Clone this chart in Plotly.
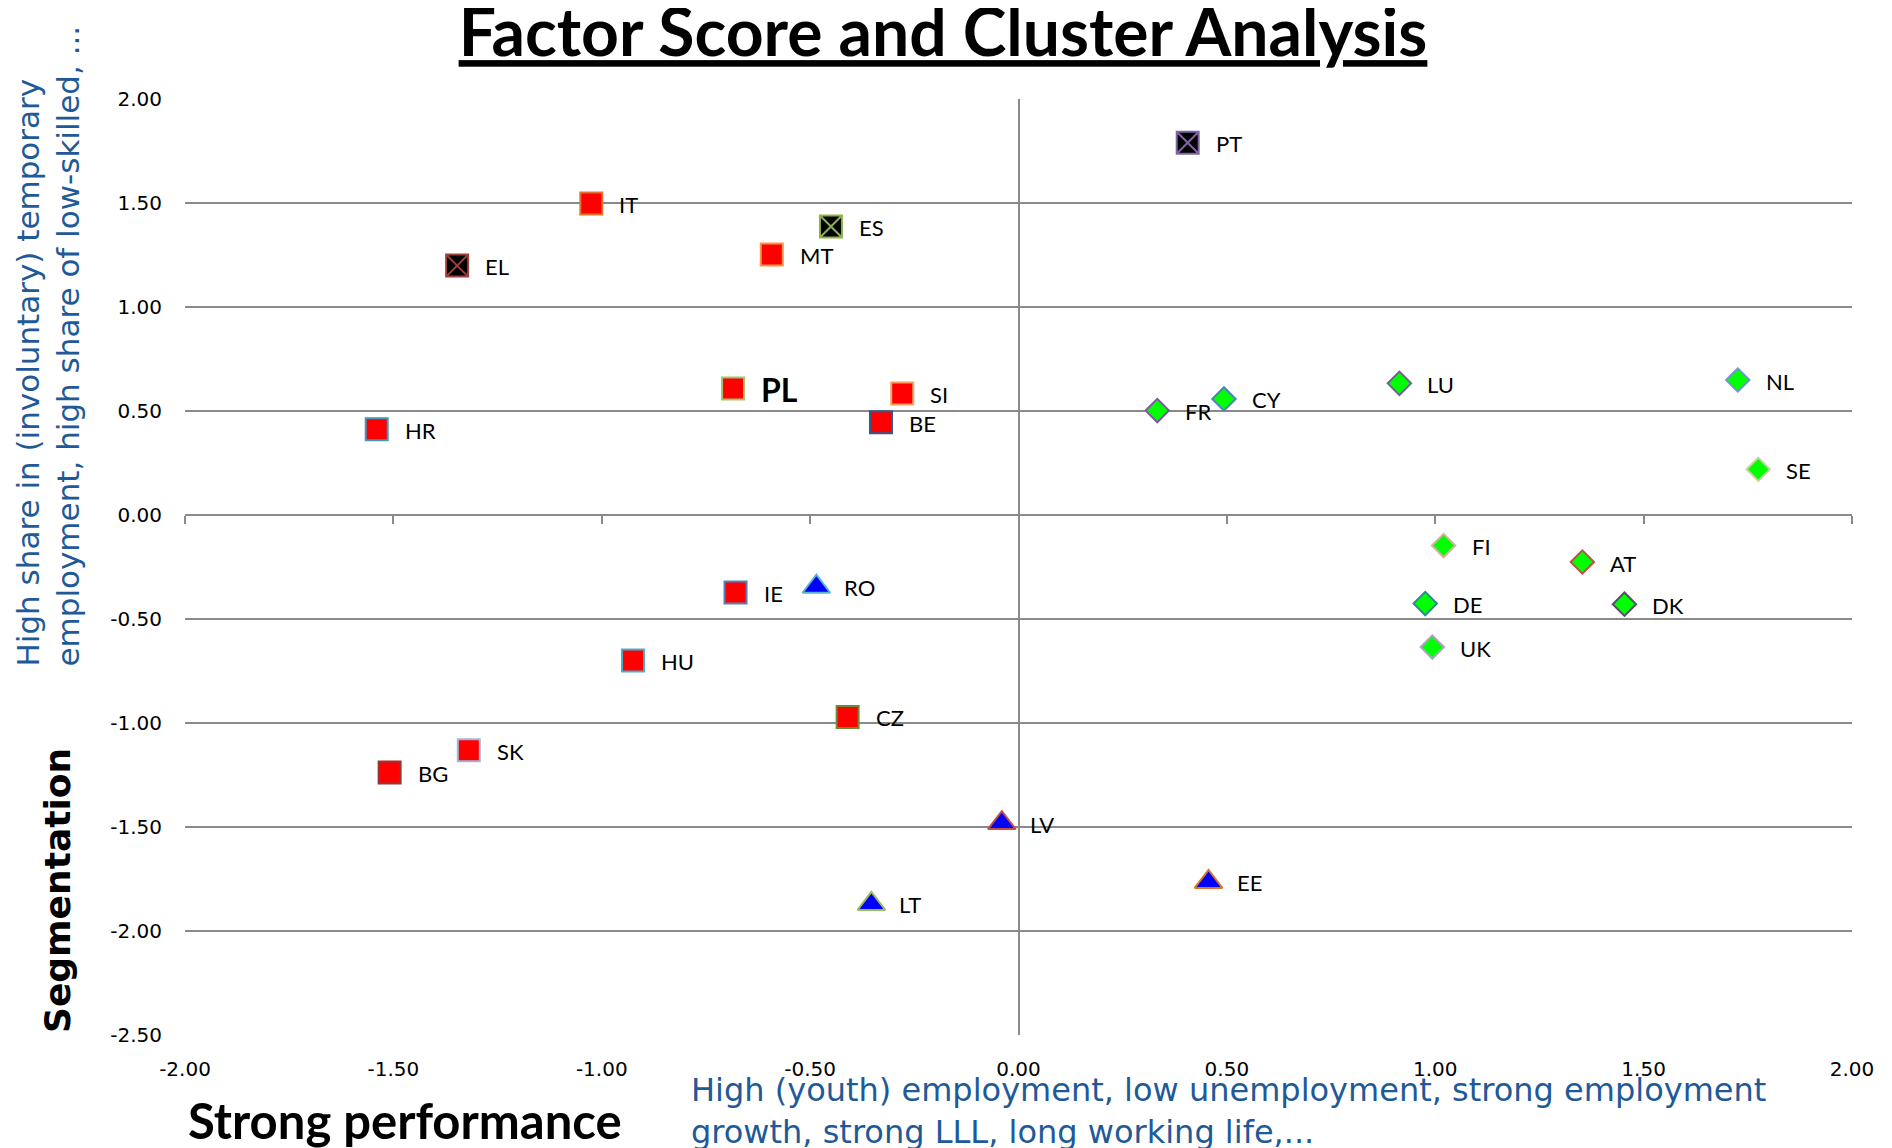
import plotly.graph_objects as go

# ---------------- data ----------------
# Cluster 1: red squares
c1_codes = ["IT", "MT", "SI", "PL", "BE", "HR", "IE", "HU", "CZ", "SK", "BG"]
c1_x = [-1.025, -0.592, -0.279, -0.685, -0.330, -1.540, -0.679, -0.925, -0.410, -1.319, -1.509]
c1_y = [1.497, 1.252, 0.584, 0.608, 0.446, 0.412, -0.373, -0.700, -0.971, -1.131, -1.238]

# Cluster 2: black crossed squares
c2_codes = ["EL", "ES", "PT"]
c2_x = [-1.347, -0.450, 0.406]
c2_y = [1.199, 1.387, 1.790]

# Cluster 3: green diamonds
c3_codes = ["FR", "CY", "LU", "NL", "SE", "FI", "AT", "DE", "DK", "UK"]
c3_x = [0.333, 0.493, 0.914, 1.726, 1.775, 1.020, 1.353, 0.976, 1.454, 0.993]
c3_y = [0.502, 0.558, 0.633, 0.649, 0.220, -0.147, -0.226, -0.426, -0.429, -0.635]

# Cluster 4: blue triangles
c4_codes = ["RO", "LV", "EE", "LT"]
c4_x = [-0.485, -0.040, 0.456, -0.353]
c4_y = [-0.345, -1.481, -1.764, -1.870]

x_ticks = [-2.0, -1.5, -1.0, -0.5, 0.0, 0.5, 1.0, 1.5, 2.0]
y_ticks = [-2.5, -2.0, -1.5, -1.0, -0.5, 0.0, 0.5, 1.0, 1.5, 2.0]
x_ticktext = [f"{v:.2f}" for v in x_ticks]
y_ticktext = [f"{v:.2f}" for v in y_ticks]

# ---------------- styles ----------------
edge = {
    "IT": "#E0742E", "MT": "#F79646", "SI": "#F8A064", "PL": "#A3C46E", "BE": "#2F5A8E",
    "HR": "#3E9AB8", "IE": "#4F81BD", "HU": "#4BACC6", "CZ": "#6E8B3A", "SK": "#9DB8DC",
    "BG": "#953735",
    "EL": "#A0403C", "ES": "#8DB04E", "PT": "#8064A2",
    "FR": "#7A5A9E", "CY": "#4F81BD", "LU": "#7A5A9E", "NL": "#7393D3", "SE": "#C3D69B",
    "FI": "#E6A8A8", "AT": "#C0504D", "DE": "#31859C", "DK": "#5F497A", "UK": "#B3A2C7",
    "RO": "#5AB4D0", "LV": "#C0504D", "EE": "#D8772A", "LT": "#9BBB59",
}
GRID = "#8A8A8A"
BLUE = "#1F5A98"

# page offset of the figure (default body margin)
OFF = 8
W, H = 1892 - OFF, 1148 - OFF
L, T = 185 - OFF, 99 - OFF
PW, PH = 1667, 936
R, B = W - L - PW, H - T - PH


def px_x(p):  # page pixel -> paper x
    return (p - OFF - L) / PW


def px_y(p):  # page pixel -> paper y
    return (T + PH - (p - OFF)) / PH


fig = go.Figure()

clusters = [
    (c1_codes, c1_x, c1_y, "square", 22, "#FF0000"),
    (c2_codes, c2_x, c2_y, "square-x", 22, "#000000"),
    (c3_codes, c3_x, c3_y, "diamond", 18, "#00FF00"),
    (c4_codes, c4_x, c4_y, "triangle-up", 24, "#0000FF"),
]
for codes, xs, ys, sym, size, fill in clusters:
    fig.add_trace(go.Scatter(
        x=xs, y=ys, mode="markers", text=codes, hoverinfo="text",
        marker=dict(symbol=sym, size=size, color=fill,
                    line=dict(width=2, color=[edge[c] for c in codes])),
        showlegend=False, cliponaxis=False,
    ))
    for c, xv, yv in zip(codes, xs, ys):
        big = c == "PL"
        fig.add_annotation(
            x=xv, y=yv, text=f"<b>{c}</b>" if big else c, showarrow=False,
            xanchor="left", yanchor="middle", xshift=26, yshift=-1,
            font=dict(family="Lato", size=32 if big else 22, color="#000000"),
        )

# helper axis drawing the x axis line with ticks at y = 0
fig.add_trace(go.Scatter(x=[0], y=[0], xaxis="x2", mode="markers",
                         marker=dict(opacity=0), hoverinfo="skip", showlegend=False))

fig.update_layout(
    width=W, height=H,
    margin=dict(l=L, r=R, t=T, b=B),
    paper_bgcolor="white", plot_bgcolor="white",
    font=dict(family="DejaVu Sans", color="#000000"),
    title=dict(
        text="<b>Factor Score and Cluster Analysis</b>",
        font=dict(family="Lato", size=66, color="#000000", lineposition="under"),
        x=(943 - OFF) / W, xref="container", xanchor="center",
        y=1 - 25 / H, yref="container", yanchor="middle",
    ),
    xaxis=dict(
        range=[-2, 2], tickvals=x_ticks, ticktext=x_ticktext,
        showgrid=False, zeroline=True, zerolinecolor=GRID, zerolinewidth=2,
        showline=False, ticks="", ticklabelstandoff=20,
        tickfont=dict(family="DejaVu Sans", size=20, color="#000000"),
    ),
    xaxis2=dict(
        range=[-2, 2], tickvals=x_ticks, overlaying="x", anchor="free",
        position=(0 - y_ticks[0]) / (y_ticks[-1] - y_ticks[0]), side="bottom",
        showgrid=False, zeroline=False, showline=True, linecolor=GRID, linewidth=2,
        ticks="outside", ticklen=8, tickwidth=2, tickcolor=GRID, showticklabels=False,
    ),
    yaxis=dict(
        range=[-2.5, 2], tickvals=y_ticks, ticktext=y_ticktext,
        showgrid=True, gridcolor=GRID, gridwidth=2, zeroline=False,
        showline=False, ticks="", ticklabelstandoff=22,
        tickfont=dict(family="DejaVu Sans", size=20, color="#000000"),
    ),
)

# axis titles
fig.add_annotation(
    xref="paper", yref="paper", x=px_x(47), y=px_y(669), xanchor="center", yanchor="bottom",
    text="High share in (involuntary) temporary<br>employment, high share of low-skilled, ...",
    textangle=-90, align="left", showarrow=False,
    font=dict(family="DejaVu Sans", size=31, color=BLUE),
)
fig.add_annotation(
    xref="paper", yref="paper", x=px_x(57), y=px_y(891), xanchor="center", yanchor="middle",
    text="<b>Segmentation</b>", textangle=-90, showarrow=False,
    font=dict(family="DejaVu Sans", size=36, color="#000000"),
)
fig.add_annotation(
    xref="paper", yref="paper", x=px_x(689), y=px_y(1111), xanchor="left", yanchor="middle",
    text="High (youth) employment, low unemployment, strong employment<br>growth, strong LLL, long working life,...",
    align="left", showarrow=False,
    font=dict(family="DejaVu Sans", size=32, color=BLUE),
)
fig.add_annotation(
    xref="paper", yref="paper", x=px_x(405), y=px_y(1120), xanchor="center", yanchor="middle",
    text="<b>Strong performance</b>", showarrow=False,
    font=dict(family="Lato", size=49, color="#000000"),
)

fig.write_html("out.html")
